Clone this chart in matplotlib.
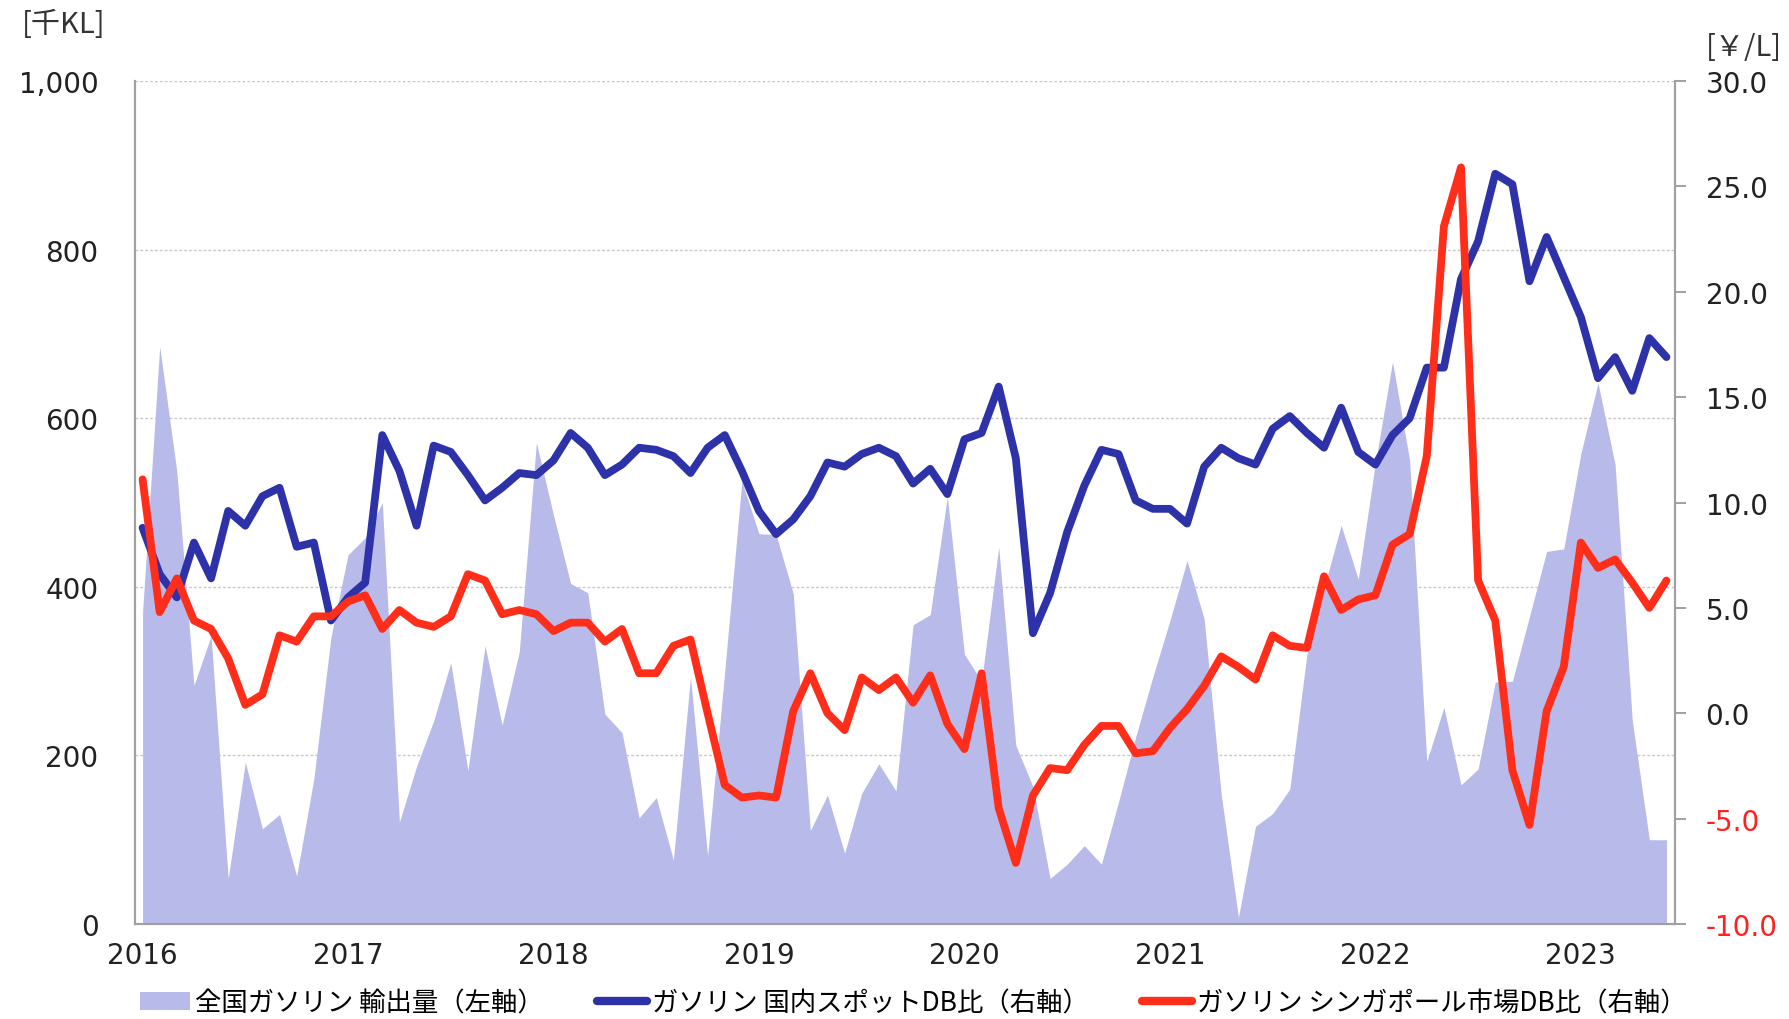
import matplotlib
matplotlib.use("Agg")
import matplotlib.pyplot as plt
import numpy as np
from matplotlib.patches import Patch
from matplotlib.lines import Line2D

# monthly data, Jan 2016 - Jun 2023
years = ["2016", "2017", "2018", "2019", "2020", "2021", "2022", "2023"]

export_vol = [370, 685, 537, 283, 342, 54, 192, 113, 130, 57, 172, 340,
              438, 458, 500, 121, 187, 241, 310, 182, 330, 236, 323, 571,
              485, 404, 393, 249, 227, 126, 150, 76, 293, 81, 300, 525,
              463, 462, 392, 111, 153, 84, 155, 190, 158, 355, 367, 507,
              320, 288, 447, 212, 163, 54, 71, 93, 71, 145, 222, 293,
              360, 431, 362, 153, 8, 116, 131, 160, 320, 399, 473, 409,
              547, 667, 550, 193, 257, 165, 184, 287, 288, 365, 442, 445,
              558, 642, 545, 242, 100, 100]

domestic_db = [8.8, 6.6, 5.5, 8.1, 6.4, 9.6, 8.9, 10.3, 10.7, 7.9, 8.1, 4.4,
               5.5, 6.2, 13.2, 11.5, 8.9, 12.7, 12.4, 11.3, 10.1, 10.7, 11.4, 11.3,
               12.0, 13.3, 12.6, 11.3, 11.8, 12.6, 12.5, 12.2, 11.4, 12.6, 13.2, 11.5,
               9.6, 8.5, 9.2, 10.3, 11.9, 11.7, 12.3, 12.6, 12.2, 10.9, 11.6, 10.4,
               13.0, 13.3, 15.5, 12.1, 3.8, 5.7, 8.6, 10.8, 12.5, 12.3, 10.1, 9.7,
               9.7, 9.0, 11.7, 12.6, 12.1, 11.8, 13.5, 14.1, 13.3, 12.6, 14.5, 12.4,
               11.8, 13.2, 14.0, 16.4, 16.4, 20.6, 22.4, 25.6, 25.1, 20.5, 22.6, 20.7,
               18.8, 15.9, 16.9, 15.3, 17.8, 16.9]

singapore_db = [11.1, 4.8, 6.4, 4.4, 4.0, 2.6, 0.4, 0.9, 3.7, 3.4, 4.6, 4.6,
                5.3, 5.6, 4.0, 4.9, 4.3, 4.1, 4.6, 6.6, 6.3, 4.7, 4.9, 4.7,
                3.9, 4.3, 4.3, 3.4, 4.0, 1.9, 1.9, 3.2, 3.5, 0.0, -3.4, -4.0,
                -3.9, -4.0, 0.1, 1.9, 0.0, -0.8, 1.7, 1.1, 1.7, 0.5, 1.8, -0.5,
                -1.7, 1.9, -4.5, -7.1, -3.9, -2.6, -2.7, -1.5, -0.6, -0.6, -1.9, -1.8,
                -0.7, 0.2, 1.3, 2.7, 2.2, 1.6, 3.7, 3.2, 3.1, 6.5, 4.9, 5.4,
                5.6, 8.0, 8.5, 12.2, 23.1, 25.9, 6.3, 4.4, -2.7, -5.3, 0.1, 2.2,
                8.1, 6.9, 7.3, 6.2, 5.0, 6.3]

labels = ["全国ガソリン 輸出量（左軸）",
          "ガソリン 国内スポットDB比（右軸）",
          "ガソリン シンガポール市場DB比（右軸）"]

c_area = "#b8baea"
c_blue = "#2e32a8"
c_red = "#ff2e1a"
jp = ["Noto Sans CJK JP", "DejaVu Sans"]

x = np.arange(len(export_vol))

fig = plt.figure(figsize=(17.89, 10.20), dpi=100)
ax = fig.add_axes([0.0752, 0.0931, 0.8611, 0.8265])
ax2 = ax.twinx()

ax.fill_between(x, export_vol, 0, color=c_area, linewidth=0)
ax.set_ylim(0, 1000)
ax.set_xlim(-0.47, 89.5)
ax.set_yticks([0, 200, 400, 600, 800, 1000])
ax.set_yticklabels(["0", "200", "400", "600", "800", "1,000"])
ax.grid(axis="y", color="#c8c8c8", linestyle=(0, (2, 1.5)), linewidth=1.0)
ax.set_axisbelow(True)
ax.tick_params(axis="y", length=0, pad=26, labelsize=20, labelcolor="#222222")
ax.set_xticks(x[::12])
ax.set_xticklabels(years)
ax.tick_params(axis="x", length=0, pad=12, labelsize=20, labelcolor="#222222")

ax2.plot(x, domestic_db, color=c_blue, linewidth=5.6, solid_joinstyle="round",
         solid_capstyle="round")
ax2.plot(x, singapore_db, color=c_red, linewidth=5.6, solid_joinstyle="round",
         solid_capstyle="round")
ax2.set_ylim(-10, 30)
rt = [-10, -5, 0, 5, 10, 15, 20, 25, 30]
ax2.set_yticks(rt)
ax2.set_yticklabels(["%.1f" % v for v in rt])
ax2.tick_params(axis="y", length=8, width=1.2, color="#909090", pad=14, labelsize=20)
for v, t in zip(rt, ax2.get_yticklabels()):
    t.set_color("#ff2020" if v < 0 else "#222222")

for a in (ax, ax2):
    a.spines["top"].set_visible(False)
    for s in ("left", "bottom", "right"):
        a.spines[s].set_color("#a0a0a0")
        a.spines[s].set_linewidth(1.5)

fig.text(0.012, 0.975, "[千KL]", fontsize=21, family=jp, color="#333333", va="center")
fig.text(0.996, 0.953, "[￥/L]", fontsize=21, family=jp, color="#333333", va="center", ha="right")

handles = [Patch(facecolor=c_area, edgecolor="none"),
           Line2D([0], [0], color=c_blue, linewidth=6, solid_capstyle="round"),
           Line2D([0], [0], color=c_red, linewidth=6, solid_capstyle="round")]
fig.legend(handles, labels, loc="center", bbox_to_anchor=(0.5105, 0.016), ncol=3,
           frameon=False, prop={"family": jp, "size": 19}, handlelength=1.9,
           handletextpad=0.2, columnspacing=2.0, borderaxespad=0)

fig.savefig("out.png", dpi=100)
